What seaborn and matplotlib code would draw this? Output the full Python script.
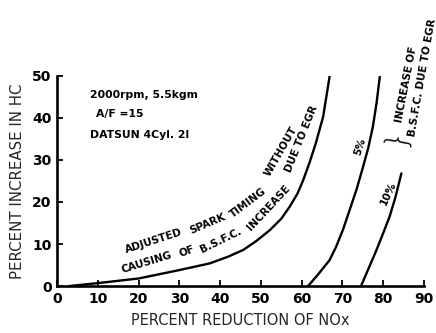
import matplotlib
matplotlib.use("Agg")
import matplotlib.pyplot as plt
import seaborn as sns
import pandas as pd

# Data
base_x = [3, 10, 20, 25, 30, 37.5, 42, 45.7, 49, 52.2, 55, 57.1, 59, 60.4, 62, 63.5, 65.3, 66.9]
base_y = [0, 0.7, 1.8, 2.8, 3.8, 5.4, 7.0, 8.6, 10.8, 13.3, 16.0, 18.9, 22.0, 25.2, 29.5, 34.0, 40.3, 50.0]
egr5_x = [61.6, 64, 66.9, 68.5, 70.2, 71.8, 73.5, 75.1, 76.4, 77.5, 78.4, 79.2]
egr5_y = [0, 2.7, 6.2, 9.4, 13.5, 18.1, 23.0, 28.4, 33.0, 37.9, 43.5, 49.8]
egr10_x = [74.6, 76.5, 78.4, 80.0, 81.6, 83.0, 84.5]
egr10_y = [0, 4.3, 8.6, 12.5, 16.5, 21.0, 26.8]
x_ticks = [0, 10, 20, 30, 40, 50, 60, 70, 80, 90]
y_ticks = [0, 10, 20, 30, 40, 50]

sns.set_style("ticks")
plt.rcParams['font.family'] = ['DejaVu Sans']

fig = plt.figure(figsize=(4.36, 3.33), dpi=100)
ax = fig.add_axes([0.131, 0.141, 0.841, 0.631])

for xs, ys in [(base_x, base_y), (egr5_x, egr5_y), (egr10_x, egr10_y)]:
    df = pd.DataFrame({"x": xs, "y": ys})
    sns.lineplot(data=df, x="x", y="y", ax=ax, color="black", linewidth=1.7,
                 sort=False, estimator=None)

ax.set_xlim(0, 90)
ax.set_ylim(0, 50)
ax.set_xticks(x_ticks)
ax.set_yticks(y_ticks)
ax.tick_params(direction="in", length=4, width=1.3, labelsize=10, colors="black", pad=4)
for lab in ax.get_xticklabels() + ax.get_yticklabels():
    lab.set_fontweight("bold")
sns.despine(ax=ax)
for s in ["left", "bottom"]:
    ax.spines[s].set_linewidth(1.9)
    ax.spines[s].set_color("black")

ax.set_xlabel("PERCENT REDUCTION OF NOx", fontsize=10.5, labelpad=5)
ax.set_ylabel("PERCENT INCREASE IN HC", fontsize=10.8, labelpad=5)

tk = dict(fontsize=7.8, fontweight="bold", color="black")
ax.text(8.1, 45.5, "2000rpm, 5.5kgm", va="center", ha="left", **tk)
ax.text(9.5, 41, "A/F =15", va="center", ha="left", **tk)
ax.text(8.1, 36, "DATSUN 4Cyl. 2l", va="center", ha="left", **tk)

tw = dict(fontsize=7.5, fontweight="bold", color="black")
words = [
    ("ADJUSTED", 23.8, 10.7, 18),
    ("SPARK", 37.0, 14.8, 23),
    ("TIMING", 46.8, 19.9, 37),
    ("WITHOUT", 54.9, 32.0, 60),
    ("CAUSING", 22.0, 5.7, 17),
    ("OF", 31.8, 8.3, 20),
    ("B.S.F.C.", 40.2, 10.8, 26),
    ("INCREASE", 51.8, 18.6, 47),
    ("DUE TO EGR", 60.0, 35.0, 68),
    ("5%", 74.3, 33.1, 72),
    ("10%", 81.2, 22.1, 65),
    ("INCREASE OF", 85.7, 48.0, 79),
    ("B.S.F.C. DUE TO EGR", 89.6, 49.5, 80),
]
for w, x, y, r in words:
    ax.text(x, y, w, rotation=r, ha="center", va="center",
            rotation_mode="anchor", **tw)

ax.text(83.0, 36.0, "}", fontsize=22, rotation=80, ha="center", va="center",
        color="black", fontweight="light", rotation_mode="anchor")

fig.savefig("out.png", dpi=100)
